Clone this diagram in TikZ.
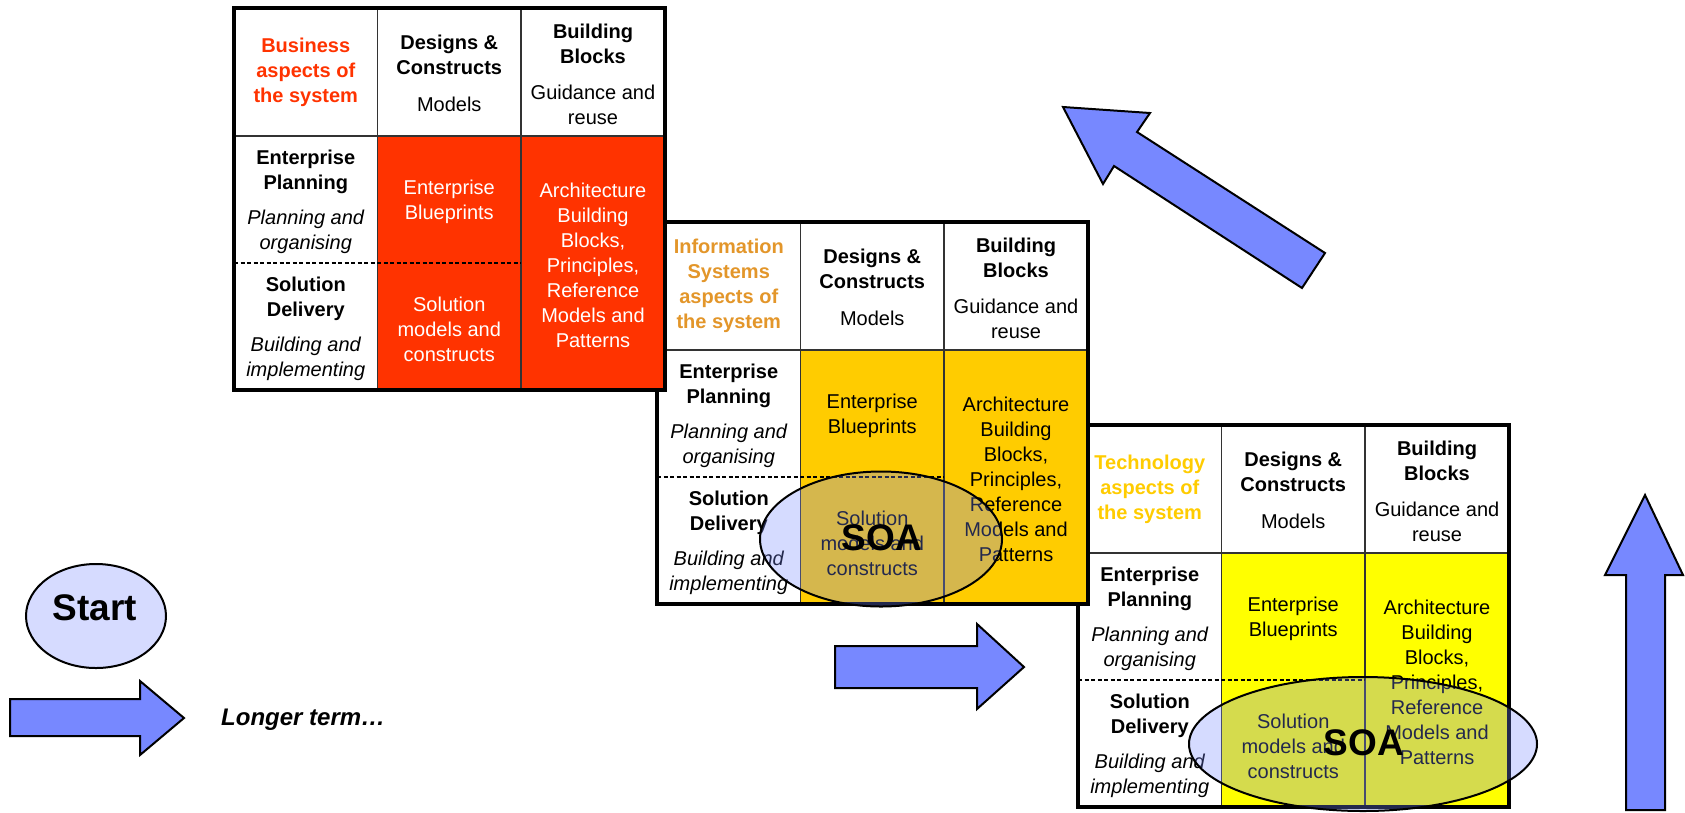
\documentclass[tikz,border=0pt]{standalone}
\usepackage{fontspec}
\setmainfont{Liberation Sans}
\usetikzlibrary{shapes.geometric}
\definecolor{redfill}{HTML}{FF3300}
\definecolor{orangefill}{HTML}{FFCC00}
\definecolor{yellowfill}{HTML}{FFFF00}
\definecolor{infotext}{HTML}{E3962A}
\definecolor{arrowblue}{HTML}{7788FF}
\definecolor{gridline}{HTML}{333333}
\tikzset{
  celltext/.style={align=center, font=\fontsize{20}{25}\selectfont, inner sep=0pt},
  boldcell/.style={align=center, font=\bfseries\fontsize{20}{25}\selectfont, inner sep=0pt},
  gridln/.style={draw=gridline, line width=1.6pt},
  dashln/.style={draw=black, line width=1.5pt, dash pattern=on 4pt off 2.5pt},
  tableborder/.style={draw=black, line width=4pt},
  bigarrow/.style={draw=black, line width=2pt, fill=arrowblue, line join=miter},
  soaell/.style={ellipse, draw=black, line width=2pt, fill=arrowblue, fill opacity=0.3, inner sep=0pt},
  soatext/.style={font=\bfseries\fontsize{37}{40}\selectfont, inner sep=0pt}
}
% #1 prefix, #2 origin, #3 header text, #4 header colour, #5 fill colour, #6 cell text colour
\newcommand{\archtable}[6]{%
\begin{scope}[shift={#2}]
  \fill[white] (0,0) rectangle (431,382);
  \fill[#5] (143.5,128) rectangle (431,382);
  \draw[gridln] (143.5,0) -- (143.5,382);
  \draw[gridln] (287,0) -- (287,382);
  \draw[gridln] (0,128) -- (431,128);
  \draw[dashln] (0,255) -- (287,255);
  \node[boldcell, text=#4] (#1aspect) at (71.75,64) {#3};
  \node[celltext] (#1designs) at (215.25,65) {\bfseries Designs \&\\\bfseries Constructs\\[12pt] Models};
  \node[celltext] (#1blocks) at (359,66) {\bfseries Building\\\bfseries Blocks\\[11pt] Guidance and\\reuse};
  \node[celltext] (#1plan) at (71.75,194) {\bfseries Enterprise\\\bfseries Planning\\[10pt]\itshape Planning and\\\itshape organising};
  \node[celltext] (#1deliv) at (71.75,321) {\bfseries Solution\\\bfseries Delivery\\[10pt]\itshape Building and\\\itshape implementing};
  \node[celltext, text=#6] (#1blue) at (215.25,194) {Enterprise\\Blueprints};
  \node[celltext, text=#6] (#1models) at (215.25,321) {Solution\\models and\\constructs};
  \node[celltext, text=#6] (#1arch) at (359,257) {Architecture\\Building\\Blocks,\\Principles,\\Reference\\Models and\\Patterns};
  \draw[tableborder] (0,0) rectangle (431,382);
\end{scope}}
\begin{document}
\begin{tikzpicture}[x=1pt, y=-1pt]
\useasboundingbox (0,0) rectangle (1685,812);
% table 3 (technology)
\archtable{tc}{(1078,425)}{Technology\\aspects of\\the system}{orangefill}{yellowfill}{black}
\node[soaell, minimum width=348, minimum height=134] (soatwo) at (1363,744) {};
\node[soatext] (soatwolabel) at (1364,743) {SOA};
% table 2 (information systems)
\archtable{is}{(657,222)}{Information\\Systems\\aspects of\\the system}{infotext}{orangefill}{black}
\node[soaell, minimum width=242, minimum height=135] (soaone) at (881,539) {};
\node[soatext] (soaonelabel) at (882,538) {SOA};
% table 1 (business)
\archtable{bu}{(234,8)}{Business\\aspects of\\the system}{redfill}{redfill}{white}
% start
\node[ellipse, draw=black, line width=2pt, fill=arrowblue!30, minimum width=140, minimum height=104, inner sep=0pt] (start) at (96,616) {};
\node[font=\bfseries\fontsize{37}{40}\selectfont, inner sep=0pt] (startlabel) at (95,608) {Start};
% arrows
\draw[bigarrow] (10,699) -- (140,699) -- (140,681) -- (184,718) -- (140,755) -- (140,736) -- (10,736) -- cycle;
\node[font=\bfseries\itshape\fontsize{24}{28}\selectfont, inner sep=0pt, anchor=base west] (longer) at (221,725) {Longer term…};
\draw[bigarrow] (835,646) -- (977,646) -- (977,624) -- (1024,667) -- (977,709) -- (977,688) -- (835,688) -- cycle;
\draw[bigarrow] (1626,810) -- (1626,575) -- (1605,575) -- (1645,495) -- (1683,575) -- (1665,575) -- (1665,810) -- cycle;
\draw[bigarrow] (1063,107) -- (1150,113) -- (1137,132) -- (1325,253) -- (1302,288) -- (1114,166) -- (1103,184) -- cycle;
\end{tikzpicture}
\end{document}
